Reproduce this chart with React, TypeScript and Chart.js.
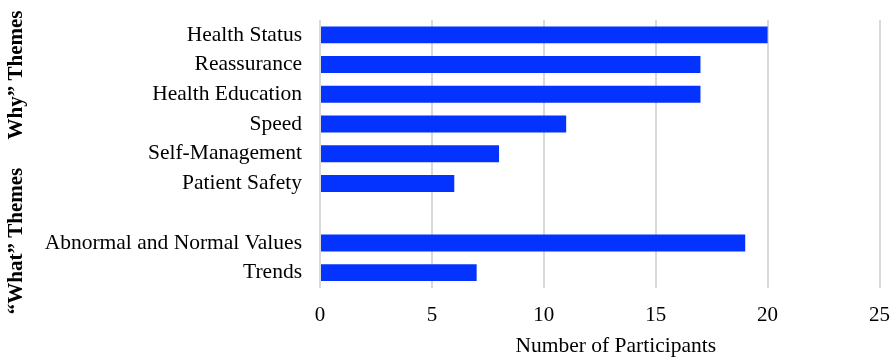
import React, { useEffect, useRef } from "react";
import { Chart, registerables } from "chart.js";

Chart.register(...registerables);

const categories: string[] = [
  "Health Status",
  "Reassurance",
  "Health Education",
  "Speed",
  "Self-Management",
  "Patient Safety",
  "",
  "Abnormal and Normal Values",
  "Trends",
];
const participants: (number | null)[] = [20, 17, 17, 11, 8, 6, null, 19, 7];
const xTicks: number[] = [0, 5, 10, 15, 20, 25];
const groupLabels: string[] = ["Why\u201D Themes", "\u201CWhat\u201D Themes"];
const xTitle = "Number of Participants";

const FONT = "'Liberation Serif', 'Times New Roman', serif";

const labelPlugin = {
  id: "extraLabels",
  afterDraw(chart: any) {
    const ctx = chart.ctx;
    ctx.save();
    ctx.fillStyle = "#000";
    ctx.textAlign = "center";
    ctx.textBaseline = "middle";
    // rotated group labels
    ctx.font = `bold 21px ${FONT}`;
    const centers = [75, 241];
    groupLabels.forEach((t, i) => {
      ctx.save();
      ctx.translate(17, centers[i]);
      ctx.rotate(-Math.PI / 2);
      ctx.fillText(t, 0, 0);
      ctx.restore();
    });
    // x-axis title (offset right of the axis centre as in the reference)
    ctx.font = `21.5px ${FONT}`;
    ctx.textBaseline = "alphabetic";
    const area = chart.chartArea;
    ctx.fillText(xTitle, area.left + (area.right - area.left) / 2 + 16, 352);
    ctx.restore();
  },
};

export default function App() {
  const ref = useRef<HTMLCanvasElement | null>(null);
  useEffect(() => {
    document.body.style.margin = "0";
    const canvas = ref.current;
    if (!canvas) return;
    const chart = new Chart(canvas, {
      type: "bar",
      data: {
        labels: categories,
        datasets: [
          {
            data: participants as any,
            backgroundColor: "#0433ff",
            borderWidth: 0,
            barPercentage: 0.57,
            categoryPercentage: 1,
          },
        ],
      },
      options: {
        indexAxis: "y",
        responsive: false,
        animation: false,
        layout: { padding: { top: 20, right: 12.5, left: 0, bottom: 0 } },
        plugins: { legend: { display: false }, tooltip: { enabled: false } },
        scales: {
          x: {
            min: 0,
            max: 25,
            afterBuildTicks: (scale: any) => {
              scale.ticks = xTicks.map((v) => ({ value: v }));
            },
            afterFit: (scale: any) => {
              scale.height = 69.5;
              scale.paddingLeft = 0;
              scale.paddingRight = 0;
            },
            grid: { color: "#d9d9d9", lineWidth: 2, drawTicks: false },
            border: { display: false },
            ticks: {
              padding: 15,
              color: "#000",
              font: { family: FONT, size: 21 },
            },
            title: { display: false, text: xTitle },
          },
          y: {
            afterFit: (scale: any) => {
              scale.width = 320;
              scale.paddingTop = 0;
              scale.paddingBottom = 0;
            },
            grid: { display: false, drawTicks: false },
            border: { display: false },
            ticks: {
              padding: 18,
              color: "#000",
              autoSkip: false,
              font: { family: FONT, size: 21.5 },
            },
          },
        },
      },
      plugins: [labelPlugin],
    });
    return () => chart.destroy();
  }, []);
  return (
    <div style={{ position: "fixed", left: 0, top: 0, width: 892, height: 357, background: "#fff" }}>
      <canvas ref={ref} width={892} height={357} style={{ display: "block" }} />
    </div>
  );
}
